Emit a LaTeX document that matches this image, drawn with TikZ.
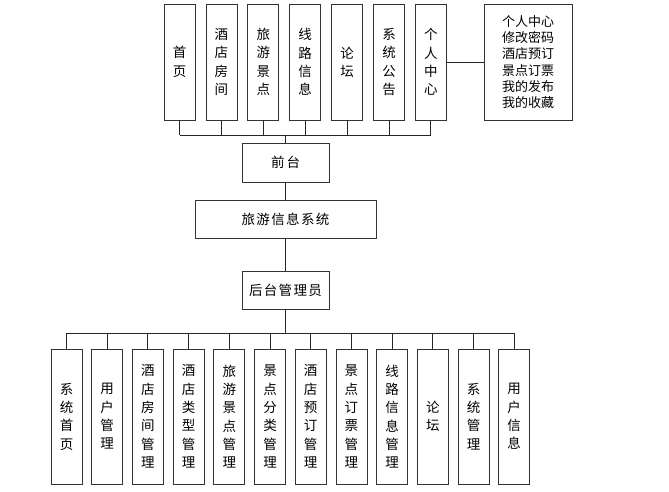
\documentclass[tikz,border=0pt]{standalone}
\usepackage{fontspec}
\newfontfamily\cjk{Noto Sans CJK SC}
\newfontfamily\cjkw[LetterSpace=10]{Noto Sans CJK SC}
\begin{document}
\begin{tikzpicture}[x=1pt,y=-1pt,
  box/.style={draw=black!80,line width=0.8pt,inner sep=0pt,align=center,font=\cjk\fontsize{13.5}{18.3}\selectfont},
  hbox/.style={box,font=\cjkw\fontsize{13.5}{18.3}\selectfont},
  vbox/.style={box,minimum width=31pt},
  conn/.style={draw=black!85,line width=0.9pt}]
\useasboundingbox (0,0) rectangle (669,491);
% top boxes
\foreach \n/\t [count=\i from 0] in {t1/首\\页,t2/酒\\店\\房\\间,t3/旅\\游\\景\\点,t4/线\\路\\信\\息,t5/论\\坛,t6/系\\统\\公\\告,t7/个\\人\\中\\心}
  \node[vbox,minimum height=116pt] (\n) at ({179.5+41.9*\i},62) {\t};
\node[box,minimum width=88pt,minimum height=116pt,font=\cjk\fontsize{13}{16.3}\selectfont] (pc) at (528,62) {个人中心\\修改密码\\酒店预订\\景点订票\\我的发布\\我的收藏};
\draw[conn] (t7.east) -- (pc.west);
% center boxes
\node[hbox,minimum width=87pt,minimum height=39pt] (qt) at (285.5,162.5) {前\hspace{2pt}台};
\node[hbox,minimum width=181pt,minimum height=38pt] (sys) at (285.5,219) {旅游信息系统};
\node[hbox,minimum width=87pt,minimum height=38pt] (ht) at (285.5,290) {后台管理员};
\coordinate (tb) at (285.5,135);
\coordinate (bb) at (285.5,333);
\foreach \n in {t1,t2,t3,t4,t5,t6,t7}
  \draw[conn] (\n.south) -- (\n.south |- tb);
\draw[conn] (t1.south |- tb) -- (t7.south |- tb);
\draw[conn] (tb) -- (qt.north);
\draw[conn] (qt.south) -- (sys.north);
\draw[conn] (sys.south) -- (ht.north);
\draw[conn] (ht.south) -- (bb);
% bottom boxes
\foreach \n/\t [count=\i from 0] in {b1/系\\统\\首\\页,b2/用\\户\\管\\理,b3/酒\\店\\房\\间\\管\\理,b4/酒\\店\\类\\型\\管\\理,b5/旅\\游\\景\\点\\管\\理,b6/景\\点\\分\\类\\管\\理,b7/酒\\店\\预\\订\\管\\理,b8/景\\点\\订\\票\\管\\理,b9/线\\路\\信\\息\\管\\理,b10/论\\坛,b11/系\\统\\管\\理,b12/用\\户\\信\\息}
  \node[vbox,minimum height=135pt] (\n) at ({66.5+40.7*\i},416.5) {\t};
\foreach \n in {b1,b2,b3,b4,b5,b6,b7,b8,b9,b10,b11,b12}
  \draw[conn] (\n.north) -- (\n.north |- bb);
\draw[conn] (b1.north |- bb) -- (b12.north |- bb);
\end{tikzpicture}
\end{document}
